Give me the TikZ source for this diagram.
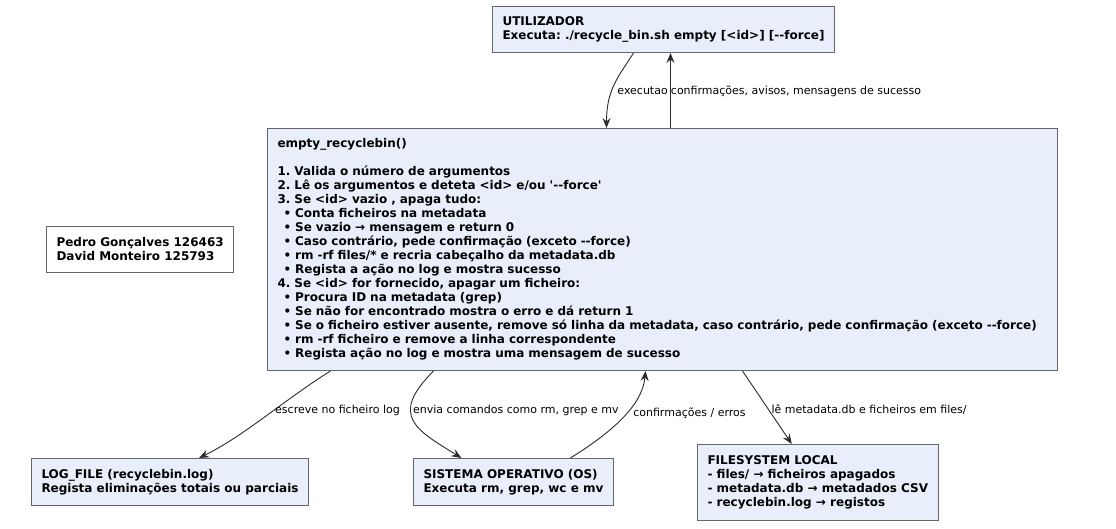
\documentclass[tikz,border=0pt]{standalone}
\usepackage{fontspec}
\newfontfamily\dvsans{DejaVu Sans}
\usetikzlibrary{arrows.meta,calc,positioning}
\frenchspacing

\definecolor{boxfill}{HTML}{E8EFFB}
\definecolor{boxline}{HTML}{646472}
\definecolor{edgecol}{HTML}{2B2B2B}

\newcommand{\bul}{\hspace*{6pt}• }

\tikzset{
  box/.style={draw=boxline, fill=boxfill, line width=1pt, anchor=north west, align=left,
    inner xsep=10pt, inner ysep=0pt, font=\dvsans\bfseries\fontsize{12}{14}\selectfont},
  flow/.style={draw=edgecol, line width=0.9pt, -{Stealth[length=10pt,width=8pt,inset=3.5pt]}},
  lbl/.style={font=\dvsans\fontsize{11}{13}\selectfont, anchor=west, inner sep=3pt}
}

\begin{document}
\begin{tikzpicture}[x=1pt,y=-1pt]
  \useasboundingbox (0,0) rectangle (1116,529);

  % boxes
  \node[box, minimum width=342pt, minimum height=46pt] (user) at (492,6)
    {UTILIZADOR\\Executa: ./recycle\_bin.sh empty [<id>] [--force]};

  \node[box, text width=770pt, minimum height=242pt] (main) at (267,128)
    {empty\_recyclebin()\\[14pt]
     1. Valida o número de argumentos\\
     2. Lê os argumentos e deteta <id> e/ou '--force'\\
     3. Se <id> vazio , apaga tudo:\\
     \bul Conta ficheiros na metadata\\
     \bul Se vazio → mensagem e return 0\\
     \bul Caso contrário, pede confirmação (exceto --force)\\
     \bul rm -rf files/* e recria cabeçalho da metadata.db\\
     \bul Regista a ação no log e mostra sucesso\\
     4. Se <id> for fornecido, apagar um ficheiro:\\
     \bul Procura ID na metadata (grep)\\
     \bul Se não for encontrado mostra o erro e dá return 1\\
     \bul Se o ficheiro estiver ausente, remove só linha da metadata, caso contrário, pede confirmação (exceto --force)\\
     \bul rm -rf ficheiro e remove a linha correspondente\\
     \bul Regista ação no log e mostra uma mensagem de sucesso};

  \node[box, fill=white, minimum width=185pt, minimum height=46pt] (authors) at (46,226)
    {Pedro Gonçalves 126463\\David Monteiro 125793};

  \node[box, minimum width=276pt, minimum height=47pt] (logfile) at (31,458)
    {LOG\_FILE (recyclebin.log)\\Regista eliminações totais ou parciais};
  \node[box, minimum width=199pt, minimum height=47pt] (os) at (413,458)
    {SISTEMA OPERATIVO (OS)\\Executa rm, grep, wc e mv};
  \node[box, minimum width=239pt, minimum height=76pt] (fs) at (697,444)
    {FILESYSTEM LOCAL\\- files/ → ficheiros apagados\\- metadata.db → metadados CSV\\- recyclebin.log → registos};

  % user <-> main
  \draw[flow] ([xshift=-30pt]user.south) .. controls +(-16,25) and +(0,-38) .. ([xshift=-56pt]main.north)
    node[lbl, pos=0.5, yshift=-5pt] {executao};
  \draw[flow] ([xshift=8pt]main.north) -- ([xshift=7pt]user.south)
    node[lbl, pos=0.5, xshift=-3pt, yshift=-1pt] {confirmações, avisos, mensagens de sucesso};

  % main -> below
  \draw[flow] ([xshift=-332pt]main.south) .. controls +(-45,28) and +(45,-22) .. ([xshift=29pt]logfile.north)
    node[lbl, pos=0.5, xshift=7pt, yshift=6pt] {escreve no ficheiro log};
  \draw[flow] ([xshift=-229pt]main.south) .. controls +(-45,45) and +(-45,-28) .. ([xshift=-52pt]os.north)
    node[lbl, pos=0.5, xshift=-4pt, yshift=10pt] {envia comandos como rm, grep e mv};
  \draw[flow] ([xshift=57pt]os.north) .. controls +(40,-25) and +(-3,35) .. ([xshift=-17pt]main.south)
    node[lbl, pos=0.5, xshift=8pt, yshift=5pt] {confirmações / erros};
  \draw[flow] ([xshift=80pt]main.south) -- ([xshift=-26pt]fs.north)
    node[lbl, pos=0.5, xshift=1pt, yshift=-2pt] {lê metadata.db e ficheiros em files/};
\end{tikzpicture}
\end{document}
